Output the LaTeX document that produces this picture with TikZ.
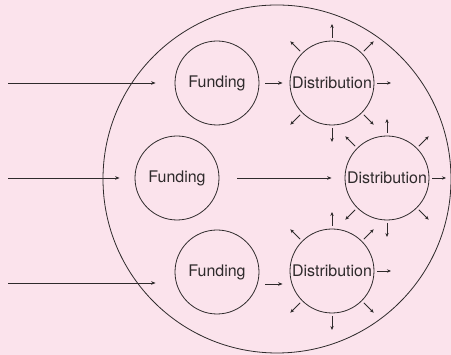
\documentclass[tikz,border=0pt]{standalone}
\usepackage{fontspec}
\setmainfont{TeX Gyre Heros}
\usetikzlibrary{arrows.meta,calc}
\definecolor{bgpink}{HTML}{FBE3EC}
\definecolor{inkgray}{HTML}{2E2A2B}

\begin{document}
\begin{tikzpicture}[x=1pt,y=1pt,>=Latex,
  unit/.style={circle,draw=inkgray,line width=0.8pt,minimum size=84pt,inner sep=0pt,
    text=inkgray,font=\fontsize{16}{18}\selectfont},
  arr/.style={-{Stealth[length=4.5pt,width=3.6pt]},line width=0.75pt,inkgray},
  spoke/.style={-{Stealth[length=4pt,width=3.4pt]},line width=0.75pt,inkgray}]

\fill[bgpink] (0,0) rectangle (451,355);
\useasboundingbox (0,0) rectangle (451,355);

\node[circle,draw=inkgray,line width=0.8pt,minimum size=348pt,inner sep=0pt] (org) at (277,176) {};

\node[unit] (fundA) at (217,272) {Funding};
\node[unit] (distA) at (332,272) {Distribution};
\node[unit] (fundB) at (177,177) {Funding};
\node[unit] (distB) at (387,177) {Distribution};
\node[unit] (fundC) at (217,83) {Funding};
\node[unit] (distC) at (332,84) {Distribution};

\coordinate (inA) at (8,272);
\coordinate (inB) at (8,177);
\coordinate (inC) at (8,72);

\draw[arr,shorten >=19pt] (inA) -- (fundA);
\draw[arr,shorten >=15pt] (inB) -- (fundB);
\draw[arr,shorten >=19pt] (inC) -- (inC -| fundC.west);

\draw[arr,shorten <=6pt,shorten >=7pt] (fundA) -- (distA);
\draw[arr,shorten <=18pt,shorten >=13pt] (fundB) -- (distB);
\draw[arr,shorten <=6pt,shorten >=7pt] ([yshift=-12pt]fundC.east) -- ([yshift=-12pt]fundC.east -| distC.west);

\foreach \n in {distA,distB,distC}
  \foreach \a in {0,45,90,135,225,270,315}
    \draw[spoke] ($(\n.center)+(\a:45)$) -- ($(\n.center)+(\a:59)$);
\end{tikzpicture}
\end{document}
